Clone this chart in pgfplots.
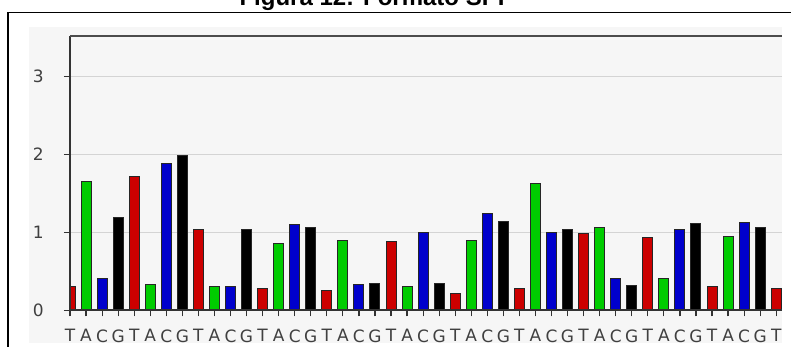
\documentclass[border=0pt]{standalone}
\usepackage{pgfplots}
\pgfplotsset{compat=1.18}
\usepackage{fontspec}
\setmainfont{DejaVu Sans}
\newfontfamily\titlefont{Liberation Sans}
\definecolor{panel}{HTML}{F6F6F6}
\definecolor{barred}{HTML}{CC0000}
\definecolor{bargreen}{HTML}{00CC00}
\definecolor{barblue}{HTML}{0000CC}
\definecolor{gridc}{HTML}{D4D4D4}
\definecolor{axc}{HTML}{333333}
\definecolor{txtc}{HTML}{404040}

\begin{document}
\begin{tikzpicture}[x=1pt,y=1pt]
\useasboundingbox (0,0) rectangle (791,347);
\clip (0,0) rectangle (791,347);
\fill[white] (0,0) rectangle (791,347);
\fill[panel] (29,4) rectangle (782,320);
\draw[black, line width=1.5pt] (8,-5) -- (8,334.5) -- (800,334.5);
\node[anchor=base, inner sep=0pt, font=\titlefont\bfseries\fontsize{24}{28}\selectfont] at (372,341.5) {Figura 12: Formato SPI};
\begin{axis}[
  at={(70pt,36.7pt)}, anchor=south west,
  scale only axis, width=712pt, height=274.6pt,
  xmin=0, xmax=44.36, ymin=0, ymax=3.52,
  axis background/.style={fill=panel},
  axis line style={draw=none},
  clip mode=individual,
  ytick={0,1,2,3},
  xtick={0,...,44},
  xticklabels={T,A,C,G,T,A,C,G,T,A,C,G,T,A,C,G,T,A,C,G,T,A,C,G,T,A,C,G,T,A,C,G,T,A,C,G,T,A,C,G,T,A,C,G,T},
  /pgf/number format/assume math mode=true,
  tick align=outside,
  xtick pos=bottom, ytick pos=left,
  major tick length=6pt,
  tick style={axc, line width=1.2pt},
  ymajorgrids, grid style={gridc, line width=1.3pt},
  ticklabel style={font=\fontsize{17}{20}\selectfont, text=txtc},
  yticklabel style={anchor=east, inner sep=0pt, xshift=-20pt},
  xticklabel style={anchor=north, inner sep=0pt, yshift=-13pt},
  bar width=10pt,
  every axis plot/.append style={ybar, bar shift=0pt, draw=black!85, line width=1pt},
]
\addplot[fill=barred] coordinates {(0,0.31) (4,1.72) (8,1.03) (12,0.28) (16,0.26) (20,0.88) (24,0.21) (28,0.28) (32,0.98) (36,0.93) (40,0.31) (44,0.28)};
\addplot[fill=bargreen] coordinates {(1,1.65) (5,0.33) (9,0.31) (13,0.85) (17,0.90) (21,0.31) (25,0.90) (29,1.62) (33,1.06) (37,0.41) (41,0.95)};
\addplot[fill=barblue] coordinates {(2,0.41) (6,1.88) (10,0.31) (14,1.10) (18,0.33) (22,1.00) (26,1.24) (30,1.00) (34,0.41) (38,1.03) (42,1.13)};
\addplot[fill=black] coordinates {(3,1.19) (7,1.99) (11,1.03) (15,1.06) (19,0.34) (23,0.34) (27,1.14) (31,1.03) (35,0.32) (39,1.11) (43,1.06)};
\draw[axc, line width=1.6pt] (rel axis cs:0,0) -- (rel axis cs:1,0);
\draw[axc, line width=1.6pt] (rel axis cs:0,0) -- (rel axis cs:0,1);
\draw[black!70, line width=1.8pt] (rel axis cs:0,1) -- (rel axis cs:1,1);
\end{axis}
\end{tikzpicture}
\end{document}
